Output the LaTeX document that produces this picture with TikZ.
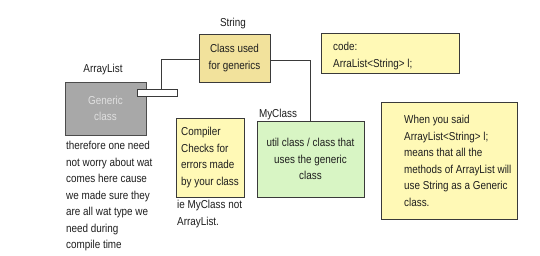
\documentclass[tikz,border=0pt]{standalone}
\usepackage{fontspec}
\setmainfont{Liberation Sans}[FakeStretch=0.86]
\usepackage{xcolor}
\usepackage{tikz}

\definecolor{strfill}{HTML}{F2E29C}
\definecolor{notefill}{HTML}{FFF9B6}
\definecolor{greenfill}{HTML}{D8F5C4}
\definecolor{grayfill}{HTML}{A8A8A8}
\definecolor{edge}{HTML}{3A3A3A}
\definecolor{ink}{HTML}{1E1E1E}

\begin{document}
\begin{tikzpicture}[x=1pt, y=-1pt, font=\fontsize{11.5}{16.5}\selectfont, text=ink,
    box/.style={rectangle, draw=edge, line width=0.9pt, inner sep=0pt},
    note/.style={inner sep=0pt, anchor=north west, align=left},
    wire/.style={draw=edge, line width=0.9pt}]
    \useasboundingbox[fill=white] (0,0) rectangle (540,256);

    \node (strlabel) at (233,24) {String};
    \node (strbox) [box, fill=strfill, minimum width=71, minimum height=48, align=center] at (234.5,58) {Class used\\for generics};

    \node (listlabel) at (103,70) {ArrayList};
    \node (listbox) [box, fill=grayfill, draw=black!70, text=black!12, minimum width=81, minimum height=53, align=center] at (105.5,108.5) {Generic\\class};
    \node (plug) [box, fill=white, minimum width=40, minimum height=7] at (157,92.5) {};
    \node (listnote) [note] at (66,141) {therefore one need\\not worry about wat\\comes here cause\\we made sure they\\are all wat type we\\need during\\compile time};

    \node (compbox) [box, fill=notefill, minimum width=68, minimum height=79, align=left] at (210,157.5) {Compiler\\Checks for\\errors made\\by your class};
    \node (compnote) [note] at (177,200) {ie MyClass not\\ArrayList.};

    \node (mylabel) at (278,115) {MyClass};
    \node (mybox) [box, fill=greenfill, minimum width=107, minimum height=76, align=center] at (310.5,159) {util class / class that\\uses the generic\\class};

    \node (codebox) [box, fill=notefill, minimum width=138, minimum height=40] at (390,53) {};
    \node (codetext) [note] at (333,42) {code:\\ArraList<String> l;};

    \node (whenbox) [box, fill=notefill, minimum width=136, minimum height=117] at (449,160.5) {};
    \node (whentext) [note] at (404,115) {When you said\\ArrayList<String> l;\\means that all the\\methods of ArrayList will\\use String as a Generic\\class.};

    \draw[wire] ([yshift=-1]strbox.west) -| ([xshift=4]plug.north);
    \draw[wire] ([yshift=-2]strbox.east) -| (mybox.north);
\end{tikzpicture}
\end{document}
